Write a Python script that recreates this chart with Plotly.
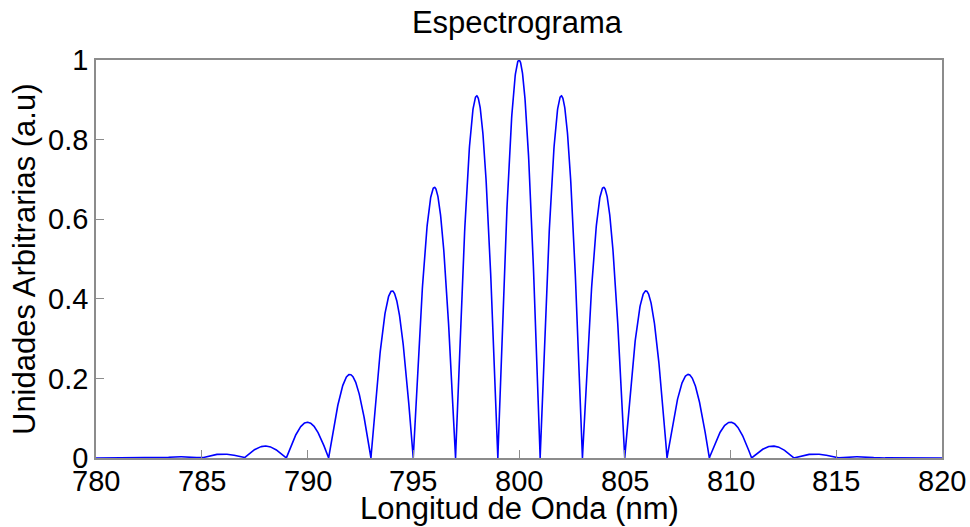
import numpy as np
import plotly.graph_objects as go

# Fringe peak positions (nm) and their normalised heights
peak_nm = [782, 784, 786, 788, 790, 792, 794, 796, 798, 800,
           802, 804, 806, 808, 810, 812, 814, 816, 818]
peak_height = [0.0004, 0.003, 0.010, 0.030, 0.090, 0.210, 0.420, 0.680, 0.910, 1.000,
               0.910, 0.680, 0.420, 0.210, 0.090, 0.030, 0.010, 0.003, 0.0004]
fringe_period = 2.0  # nm between neighbouring peaks

x_range = [780, 820]
y_ticks = [0, 0.2, 0.4, 0.6, 0.8, 1]
x_ticks = [780, 785, 790, 795, 800, 805, 810, 815, 820]

# Each fringe is a half-cycle lobe scaled to its peak height
wl = np.linspace(x_range[0], x_range[1], 4001)
heights = dict(zip(peak_nm, peak_height))
intensity = []
for w in wl:
    k = int(round((w - peak_nm[0]) / fringe_period))
    k = min(max(k, 0), len(peak_nm) - 1)
    p = peak_nm[k]
    h = heights[p] if abs(w - p) <= fringe_period / 2 else 0.0
    intensity.append(h * abs(np.cos(np.pi * (w - p) / fringe_period)))

fig = go.Figure(go.Scatter(x=wl, y=intensity, mode="lines",
                           line=dict(color="#0000ff", width=1.6)))

family = "Liberation Sans, Arial, sans-serif"
tick_font = dict(family=family, size=29, color="black")
title_font = dict(family=family, size=31, color="black")
axis_common = dict(showline=True, linecolor="#8c8c8c", linewidth=1.5, mirror=True,
                   ticks="inside", ticklen=8, tickcolor="#8c8c8c", tickwidth=1,
                   showgrid=False, zeroline=False, tickfont=tick_font, automargin=False)

# x tick labels sit tight under the axis, so they are written as annotations
annotations = [dict(text=f"{t:g}", x=t, xref="x", y=0, yref="paper",
                    xanchor="center", yanchor="top", yshift=-5, showarrow=False,
                    font=tick_font) for t in x_ticks]
annotations.append(dict(text="Longitud de Onda (nm)", x=0.5, xref="paper",
                        y=-0.128, yref="paper", xanchor="center", yanchor="middle",
                        showarrow=False, font=title_font))
annotations.append(dict(text="Unidades Arbitrarias (a.u)", x=-0.0851, xref="paper",
                        y=0.5, yref="paper", xanchor="center", yanchor="middle",
                        textangle=-90, showarrow=False, font=title_font))

fig.update_layout(
    width=970, height=527,
    margin=dict(l=96, r=28, t=60, b=69),
    paper_bgcolor="white", plot_bgcolor="white",
    showlegend=False,
    title=dict(text="Espectrograma", x=0.533, xanchor="center", y=0.958, yanchor="middle",
               font=title_font, automargin=False),
    xaxis=dict(range=x_range, tickvals=x_ticks, showticklabels=False, **axis_common),
    yaxis=dict(range=[0, 1], tickvals=y_ticks, ticktext=[f"{v:g}" for v in y_ticks],
               **axis_common),
    annotations=annotations,
)

fig.write_html("out.html")
